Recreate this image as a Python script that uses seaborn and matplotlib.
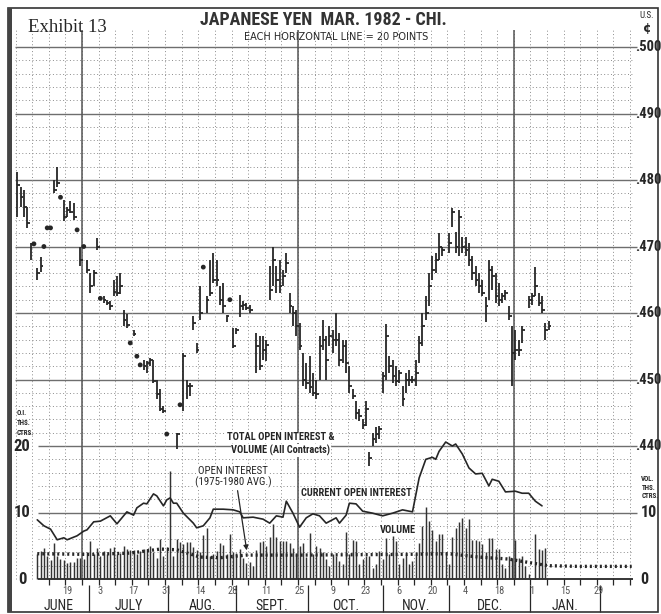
import numpy as np
import pandas as pd
import matplotlib
matplotlib.use("Agg")
import matplotlib.pyplot as plt
from matplotlib import font_manager as fm
from matplotlib.patches import Rectangle
import seaborn as sns

# === 1. Daten ===
# Handelstage: t = 0 ist Montag, 1. Juni 1981 (5 Handelstage pro Woche)
bar_start = -1
highs = [
    .4812, .4790, .4785, .4760, .4706, .4704, .4668, .4684, .4700, .4728,
    .4728, .4800, .4820, .4774, .4770, .4760, .4768, .4765, .4725, .4700,
    .4700, .4680, .4660, .4665, .4713, .4622, .4625, .4620, .4618, .4650,
    .4656, .4660, .4605, .4598, .4555, .4575, .4535, .4522, .4530, .4528,
    .4532, .4530, .4500, .4485, .4460, .4418, np.nan, np.nan, .4420, .4462,
    .4540, .4500, .4495, .4595, .4555, .4640, .4669, .4625, .4680, .4690,
    .4680, .4640, .4645, .4597, .4620, .4577, .4577, .4627, .4618, .4615,
    .4612, np.nan, .4570, .4565, .4565, .4560, .4670, .4700, .4670, .4680,
    .4665, .4690, .4630, .4610, .4605, .4585, .4540, .4525, .4535, .4510,
    .4500, .4565, .4590, .4565, .4580, .4575, .4600, .4570, .4560, .4560,
    .4520, .4485, .4468, .4455, .4440, .4468, .4391, .4420, .4428, .4430,
    .4512, .4583, .4535, .4530, .4520, .4515, .4490, .4510, .4515, .4505,
    .4530, .4565, .4600, .4625, .4660, .4685, .4690, .4720, .4700, np.nan,
    .4720, .4758, .4722, .4755, .4715, .4715, .4705, .4685, .4670, .4660,
    .4650, .4624, .4680, .4670, .4660, .4645, .4630, .4635, .4610, .4580,
    .4575, .4560, .4580, np.nan, .4626, .4630, .4669, .4630, .4625, .4585,
    .4588,
]
lows = [
    .4744, .4760, .4745, .4728, .4680, .4704, .4650, .4662, .4700, .4728,
    .4728, .4780, .4790, .4774, .4738, .4745, .4750, .4740, .4725, .4670,
    .4700, .4660, .4630, .4640, .4695, .4622, .4615, .4612, .4605, .4625,
    .4625, .4628, .4580, .4578, .4555, .4565, .4535, .4522, .4515, .4510,
    .4520, .4495, .4470, .4452, .4450, .4418, np.nan, np.nan, .4396, .4462,
    .4452, .4470, .4475, .4575, .4540, .4590, .4669, .4600, .4625, .4645,
    .4640, .4612, .4600, .4587, .4620, .4547, .4568, .4594, .4605, .4605,
    .4600, np.nan, .4510, .4515, .4530, .4528, .4620, .4640, .4630, .4630,
    .4640, .4660, .4600, .4580, .4565, .4545, .4490, .4485, .4480, .4475,
    .4470, .4500, .4545, .4500, .4550, .4540, .4550, .4520, .4525, .4510,
    .4480, .4470, .4440, .4438, .4425, .4430, .4370, .4400, .4405, .4410,
    .4480, .4500, .4510, .4495, .4490, .4495, .4460, .4480, .4490, .4495,
    .4490, .4525, .4550, .4590, .4610, .4650, .4660, .4680, .4685, np.nan,
    .4690, .4730, .4690, .4685, .4690, .4685, .4670, .4650, .4640, .4630,
    .4625, .4586, .4620, .4635, .4615, .4610, .4615, .4620, .4590, .4490,
    .4530, .4535, .4555, np.nan, .4608, .4612, .4625, .4610, .4600, .4560,
    .4575,
]
closes = [
    .4792, .4775, .4760, .4735, .4704, .4704, .4660, .4670, .4700, .4728,
    .4728, .4785, .4795, .4774, .4745, .4755, .4752, .4745, .4725, .4680,
    .4700, .4665, .4640, .4660, .4700, .4622, .4620, .4615, .4610, .4632,
    .4630, .4640, .4590, .4582, .4555, .4568, .4535, .4522, .4520, .4525,
    .4530, .4498, .4478, .4455, .4452, .4418, np.nan, np.nan, .4418, .4462,
    .4535, .4490, .4490, .4585, .4545, .4600, .4669, .4620, .4630, .4650,
    .4650, .4620, .4610, .4595, .4620, .4550, .4575, .4610, .4612, .4608,
    .4605, np.nan, .4550, .4520, .4545, .4552, .4635, .4680, .4650, .4640,
    .4655, .4675, .4610, .4600, .4580, .4550, .4500, .4495, .4488, .4480,
    .4478, .4550, .4560, .4530, .4565, .4560, .4560, .4530, .4550, .4525,
    .4490, .4475, .4450, .4445, .4432, .4455, .4382, .4410, .4418, .4425,
    .4505, .4565, .4520, .4505, .4498, .4510, .4470, .4500, .4500, .4500,
    .4510, .4555, .4580, .4600, .4640, .4665, .4680, .4700, .4695, np.nan,
    .4705, .4752, .4700, .4745, .4700, .4695, .4680, .4660, .4650, .4640,
    .4630, .4610, .4665, .4655, .4625, .4620, .4625, .4630, .4595, .4540,
    .4545, .4545, .4575, np.nan, .4620, .4625, .4640, .4615, .4605, .4575,
    .4580,
]

# Umsatz (Tsd. Kontrakte), ab t = 5
vol_start = 5
volume = [
    3.8, 4.2, 4.7, 3.5, 2.8, 5.4, 3.4, 3.0, 2.9, 2.4,
    2.5, 2.5, 3.1, 3.1, 3.0, 4.0, 5.7, 3.7, 4.6, 3.5,
    4.2, 3.7, 4.6, 4.8, 3.7, 3.9, 5.0, 4.5, 4.4, 4.3,
    3.8, 4.2, 4.5, 4.5, 4.9, 4.0, 3.1, 6.0, 3.4, 4.8,
    16.3, 3.5, 6.0, 5.6, 5.2, 5.6, 5.5, 4.8, 4.3, 4.0,
    6.6, 7.6, 3.5, 3.7, 4.2, 5.4, 5.1, 3.7, 6.7, 4.1,
    3.9, 4.5, 3.1, 2.4, 2.6, 1.9, 4.3, 5.5, 5.7, 5.0,
    6.3, 8.3, 6.3, 5.7, 5.7, 5.7, 5.4, 4.7, 3.7, 4.9,
    5.4, 3.3, 6.9, 3.7, 4.9, 4.7, 4.0, 3.0, 2.0, 3.7,
    3.5, 2.7, 2.2, 7.0, 3.7, 5.9, 5.7, 2.3, 3.0, 3.5,
    3.5, 1.7, 2.2, 4.2, 3.0, 6.1, 3.7, 6.4, 5.7, 2.2,
    3.2, 3.7, 2.2, 2.7, 3.7, 5.4, 7.9, 10.9, 8.7, 7.4,
    5.7, 6.7, 6.7, 4.0, 2.2, 6.3, 7.7, 8.5, 9.2, 7.7,
    9.1, 5.9, 5.9, 5.7, 5.3, 4.0, 6.2, 6.2, 4.5, 4.5,
    2.2, 1.7, 3.5, 3.2, 5.9, 3.2, 3.5, 2.0, 0.7, np.nan,
    6.7, 4.5, 4.4, 4.7,
]

# Aktuelles Open Interest (Tsd. Kontrakte)
oi_days = [5, 7, 9, 11, 13, 14, 17, 19, 20, 22, 24, 27, 29, 31, 32, 34, 35, 37, 38, 40,
           41, 43, 44, 45, 46, 47, 49, 52, 53, 55, 57, 58, 61, 64, 66, 67, 70, 73, 75, 77,
           79, 80, 82, 84, 86, 88, 90, 92, 95, 96, 98, 99, 101, 103, 106, 109, 112, 115, 118, 120,
           122, 124, 125, 126, 128, 130, 131, 133, 135, 137, 139, 141, 142, 144, 146, 149, 151, 153, 155, 157]
oi_vals = [8.9, 8.0, 7.5, 5.9, 6.2, 5.9, 6.5, 7.2, 7.4, 8.6, 8.7, 9.5, 8.3, 9.5, 10.1, 9.6, 10.7, 11.4, 11.3, 12.8,
           12.5, 11.0, 11.9, 12.2, 11.4, 11.4, 9.9, 8.4, 7.7, 8.0, 9.2, 10.5, 10.5, 10.4, 10.1, 9.2, 9.3, 9.0, 8.4, 9.5,
           9.3, 11.7, 9.9, 7.8, 9.2, 9.8, 9.5, 8.4, 9.2, 8.4, 9.6, 11.4, 11.3, 10.2, 9.9, 9.5, 9.9, 10.4, 10.1, 15.2,
           18.0, 18.3, 18.0, 19.2, 20.6, 20.0, 20.3, 18.8, 16.7, 15.8, 15.9, 14.0, 15.0, 14.7, 13.1, 13.2, 12.9, 12.9, 11.7, 11.0]

# Open Interest Durchschnitt 1975-1980
avg_days = [5, 21, 33, 42, 47, 54, 60, 68, 84, 114, 129, 138, 147, 154, 159, 168, 184]
avg_vals = [3.8, 3.7, 3.9, 4.5, 4.4, 3.3, 3.2, 3.6, 3.6, 3.7, 3.8, 3.3, 3.0, 2.4, 2.0, 1.9, 1.9]

# Achsenbeschriftung
day_ticks = [14, 24, 34, 44, 54, 64, 74, 84, 94, 104, 114, 124, 134, 144, 154, 164, 174]
day_labels = ["19", "3", "17", "31", "14", "28", "11", "25", "9", "23", "6", "20", "4", "18", "1", "15", "29"]
month_edges = [2.5, 20.5, 44.5, 65, 86.5, 109, 129, 153.5, 174.5]
month_labels = ["JUNE", "JULY", "AUG.", "SEPT.", "OCT.", "NOV.", "DEC.", "JAN."]
price_ticks = [.440, .450, .460, .470, .480, .490, .500]
oi_ticks = [0, 10, 20]

# === 2. Schriften ===
def pick_narrow():
    prefs = ["Liberation Sans Narrow", "Roboto Condensed", "Noto Sans Condensed",
             "DejaVu Sans Condensed", "Open Sans Condensed"]
    names = {f.name for f in fm.fontManager.ttflist}
    for p in prefs:
        if p in names:
            return p, "normal"
    for f in fm.fontManager.ttflist:
        st = f.stretch
        if st in ("condensed", "semi-condensed", "extra-condensed") or (isinstance(st, int) and st < 500):
            return f.name, st
    return "DejaVu Sans", "normal"

narrow, narrow_stretch = pick_narrow()
sns.set_theme(style="white")
plt.rcParams["font.family"] = ["DejaVu Sans"]
INK = "#262626"
GRID = "#8c8c8c"
NFAM = [narrow, "DejaVu Sans"]

def ntext(x, y, s, size, weight="bold", **kw):
    return ax2.text(x, y, s, fontsize=size, fontweight=weight, family=NFAM,
                    fontstretch=narrow_stretch, color=INK, **kw)

# === 3. Figur ===
fig = plt.figure(figsize=(6.61, 6.14), dpi=100)
fig.patch.set_facecolor("white")
ax = fig.add_axes([15 / 661, 1 - 586 / 614, 618 / 661, 556 / 614])
XLIM = (-1.7, 184.4)
YLIM = (0.41895, 0.502556)
ax.set_xlim(*XLIM)
ax.set_ylim(*YLIM)
ax.axis("off")
ax2 = ax.twinx()
ax2.axis("off")

# Gitter
t_low = 5.2
for lv in np.round(np.arange(0.420, 0.5001, 0.002), 3):
    x0 = t_low if lv <= 0.4401 else XLIM[0]
    major = abs(lv * 100 - round(lv * 100)) < 1e-6
    if lv == 0.420:
        ax.hlines(lv, x0, XLIM[1], color=INK, lw=1.3, zorder=1)
    elif major:
        ax.hlines(lv, x0, XLIM[1] + 1.2, color="#6e6e6e", lw=1.0, zorder=0, clip_on=False)
    else:
        ax.hlines(lv, x0, XLIM[1], color=GRID, lw=0.7, linestyles=(0, (1, 2.5)), zorder=0)

weeks = np.arange(-1.5, 184, 5)
ax.vlines(weeks, 0.420, YLIM[1], color=GRID, lw=0.7, linestyles=(0, (1, 2.5)), zorder=0)
ax.vlines([18.5, 83.5, 148.5], 0.420, YLIM[1], color="#555555", lw=1.1, zorder=0)
ax.vlines(weeks[weeks > 5], YLIM[0] + 0.0001, 0.420, color=INK, lw=0.9, zorder=1)

# Preisbalken
t_bars = np.arange(bar_start, bar_start + len(highs))
price = pd.DataFrame({"t": t_bars, "high": highs, "low": lows, "close": closes}).dropna()
limit = price[price["high"] == price["low"]]
normal = price[price["high"] != price["low"]]
ax.vlines(normal["t"], normal["low"], normal["high"], color=INK, lw=1.3, zorder=3)
ax.hlines(normal["close"], normal["t"], normal["t"] + 0.85, color=INK, lw=1.3, zorder=3)
sns.scatterplot(data=limit, x="t", y="close", ax=ax, color=INK, s=12, edgecolor="none", zorder=3, legend=False)

# Umsatz und Open Interest
t_vol = np.arange(vol_start, vol_start + len(volume))
vol = pd.DataFrame({"t": t_vol, "vol": volume}).dropna()
ax2.vlines(vol["t"], 0, vol["vol"], color="#333333", lw=1.05, zorder=2)
sns.lineplot(x=oi_days, y=oi_vals, ax=ax2, color=INK, lw=1.2, zorder=4)
sns.lineplot(x=avg_days, y=avg_vals, ax=ax2, color=INK, lw=2.4, linestyle=(0, (0.6, 0.9)), zorder=4)
ax2.set_xlim(*XLIM)
ax2.set_ylim((YLIM[0] - 0.420) * 1000, (YLIM[1] - 0.420) * 1000)
ax2.axis("off")

# === 4. Beschriftung ===
ytr = ax.get_yaxis_transform()
for p in price_ticks:
    ax.text(1.0035, p, f"{p:.3f}"[1:], transform=ytr, ha="left", va="center", fontsize=10.5,
            fontweight="bold", family=NFAM, fontstretch=narrow_stretch, color=INK, clip_on=False)
ytr2 = ax2.get_yaxis_transform()
for v in oi_ticks[:2]:
    ax2.text(1.0125, v, str(v), transform=ytr2, ha="left", va="center", fontsize=11.5,
             fontweight="bold", family=NFAM, fontstretch=narrow_stretch, color=INK, clip_on=False)
for v in oi_ticks:
    ax2.text(0.0115, v, str(v), transform=ytr2, ha="center", va="center", fontsize=12,
             fontweight="bold", family=NFAM, fontstretch=narrow_stretch, color=INK)
for i, s in enumerate(["VOL.", "THS.", "CTRS."]):
    ax2.text(1.0135, 15.0 - i * 1.25, s, transform=ytr2, ha="left", va="center", fontsize=5,
             fontweight="bold", family=NFAM, fontstretch=narrow_stretch, color=INK, clip_on=False)
for i, s in enumerate(["O.I.", "THS.", "CTRS."]):
    ax2.text(0.003, 24.9 - i * 1.45, s, transform=ytr2, ha="left", va="center", fontsize=5,
             fontweight="bold", family=NFAM, fontstretch=narrow_stretch, color=INK)
fig.text(647 / 661, 1 - 15 / 614, "U.S.", ha="center", va="center", fontsize=6.5,
         family=NFAM, fontstretch=narrow_stretch, color=INK)
fig.text(647 / 661, 1 - 29 / 614, "¢", ha="center", va="center", fontsize=9, fontweight="bold", color=INK)

box = dict(facecolor="white", edgecolor="none", pad=0.6)
ntext(78.4, 21.3, "TOTAL OPEN INTEREST &", 7.5, ha="center", va="center", bbox=box, zorder=6)
ntext(78.4, 19.3, "VOLUME (All Contracts)", 7.5, ha="center", va="center", bbox=box, zorder=6)
ntext(64, 16.2, "OPEN INTEREST", 7.8, weight="normal", ha="center", va="center", bbox=box, zorder=6)
ntext(64, 14.6, "(1975-1980 AVG.)", 7.8, weight="normal", ha="center", va="center", bbox=box, zorder=6)
ntext(101, 12.9, "CURRENT OPEN INTEREST", 7.5, ha="center", va="center", bbox=box, zorder=6)
ntext(113.7, 7.4, "VOLUME", 7.5, ha="center", va="center", bbox=box, zorder=6)
ax2.annotate("", xy=(68.2, 3.9), xytext=(65.2, 13.7),
             arrowprops=dict(arrowstyle="-|>", color=INK, lw=0.9, mutation_scale=7), zorder=6)

# Tage und Monate unter der Achse
for t, s in zip(day_ticks, day_labels):
    ax2.text(t, -1.85, s, ha="center", va="center", fontsize=7.5, color="#555555",
             family=NFAM, fontstretch=narrow_stretch, clip_on=False)
for i, s in enumerate(month_labels):
    mid = (month_edges[i] + month_edges[i + 1]) / 2
    ax2.text(mid, -4.05, s, ha="center", va="center", fontsize=10, color=INK,
             family=NFAM, fontstretch=narrow_stretch, clip_on=False)
for e in month_edges[1:]:
    ax2.vlines(e, -5.0, -0.9, color=INK, lw=0.9, clip_on=False)

# Titel
fig.text(323 / 661, 1 - 20 / 614, "JAPANESE YEN  MAR. 1982 - CHI.", ha="center", va="center", fontsize=13,
         fontweight="bold", family=NFAM, fontstretch=narrow_stretch, color="#333333")
fig.text(336 / 661, 1 - 37.5 / 614, "EACH HORIZONTAL LINE = 20 POINTS", ha="center", va="center", fontsize=7,
         family=["DejaVu Sans"], color=INK)
fig.text(28 / 661, 1 - 27 / 614, "Exhibit 13", ha="left", va="center", fontsize=13.5,
         family=["Liberation Serif", "DejaVu Serif"], color=INK)

# Rahmen
fig.patches.append(Rectangle((8 / 661, 2 / 614), 650 / 661, 604 / 614, transform=fig.transFigure,
                             fill=False, edgecolor="#333333", lw=1.2))
fig.patches.append(Rectangle((8 / 661, 2 / 614), 4 / 661, 604 / 614, transform=fig.transFigure,
                             facecolor="#444444", edgecolor="none"))

fig.savefig("out.png", dpi=100, facecolor="white")
